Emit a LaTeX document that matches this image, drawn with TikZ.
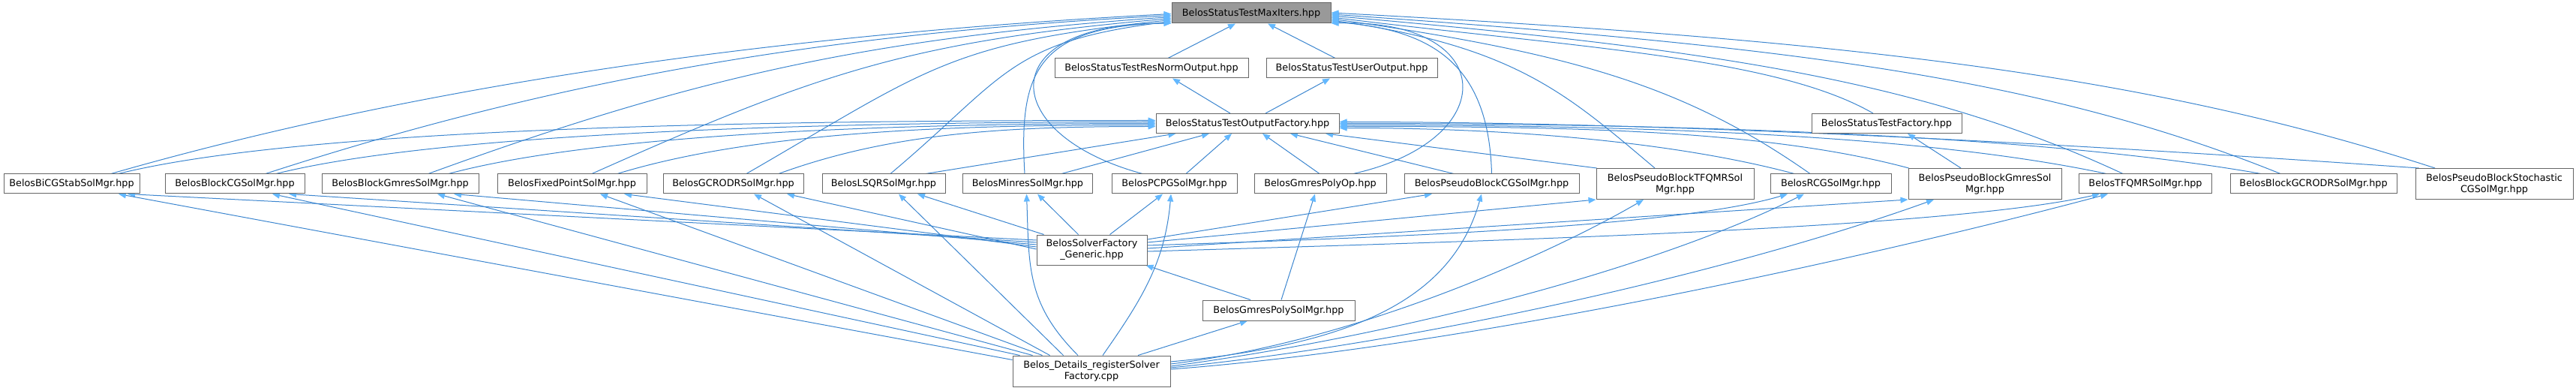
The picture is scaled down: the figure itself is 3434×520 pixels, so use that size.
\documentclass[tikz,border=0pt]{standalone}
\usepackage{fontspec}
\setmainfont{DejaVu Sans}
\usetikzlibrary{arrows.meta,backgrounds}
\definecolor{edgeblue}{HTML}{3C86CF}
\definecolor{tipblue}{HTML}{63B8FF}
\definecolor{boxborder}{HTML}{666666}
\definecolor{rootfill}{HTML}{999999}
\begin{document}
\begin{tikzpicture}[x=1pt,y=1pt,
  box/.style={draw=boxborder, line width=1pt, fill=white, inner sep=0pt,
    minimum height=26pt, font=\fontsize{12.8}{15}\selectfont, align=center, text=black},
  dbl/.style={minimum height=41pt},
  root/.style={fill=rootfill, minimum height=27pt},
  dep/.style={draw=edgeblue, line width=1pt, -{Triangle[length=10pt,width=8pt,color=tipblue]}},
]
\useasboundingbox (0,0) rectangle (3434,520);
% ---- nodes ----
\node[box,root,minimum width=212pt] (maxiters) at (1668,502.5) {BelosStatusTestMaxIters.hpp};
\node[box,minimum width=258pt] (resnorm) at (1535,429) {BelosStatusTestResNormOutput.hpp};
\node[box,minimum width=228pt] (useroutput) at (1802,429) {BelosStatusTestUserOutput.hpp};
\node[box,minimum width=244pt] (outfact) at (1663,355.5) {BelosStatusTestOutputFactory.hpp};
\node[box,minimum width=200pt] (stfactory) at (2515,355.5) {BelosStatusTestFactory.hpp};
\node[box,minimum width=181pt] (bicg) at (95.5,275) {BelosBiCGStabSolMgr.hpp};
\node[box,minimum width=186pt] (blockcg) at (313,275) {BelosBlockCGSolMgr.hpp};
\node[box,minimum width=209pt] (blockgmres) at (533.5,275) {BelosBlockGmresSolMgr.hpp};
\node[box,minimum width=199pt] (fixedpoint) at (762.5,275) {BelosFixedPointSolMgr.hpp};
\node[box,minimum width=187pt] (gcrodr) at (977.5,275) {BelosGCRODRSolMgr.hpp};
\node[box,minimum width=164pt] (lsqr) at (1178,275) {BelosLSQRSolMgr.hpp};
\node[box,minimum width=173pt] (minres) at (1370,275) {BelosMinresSolMgr.hpp};
\node[box,minimum width=167pt] (pcpg) at (1565.5,275) {BelosPCPGSolMgr.hpp};
\node[box,minimum width=176pt] (gmrespolyop) at (1760,275) {BelosGmresPolyOp.hpp};
\node[box,minimum width=233pt] (pbcg) at (1988.5,275) {BelosPseudoBlockCGSolMgr.hpp};
\node[box,dbl,minimum width=210pt] (pbtfqmr) at (2233,275) {BelosPseudoBlockTFQMRSol\\Mgr.hpp};
\node[box,minimum width=161pt] (rcg) at (2440.5,275) {BelosRCGSolMgr.hpp};
\node[box,dbl,minimum width=204pt] (pbgmres) at (2646,275) {BelosPseudoBlockGmresSol\\Mgr.hpp};
\node[box,minimum width=177pt] (tfqmr) at (2860,275) {BelosTFQMRSolMgr.hpp};
\node[box,minimum width=222pt] (blockgcrodr) at (3084,275) {BelosBlockGCRODRSolMgr.hpp};
\node[box,dbl,minimum width=210pt] (pbstoch) at (3325,275) {BelosPseudoBlockStochastic\\CGSolMgr.hpp};
\node[box,minimum height=40pt,minimum width=147pt] (sf) at (1455.5,187) {BelosSolverFactory\\\_Generic.hpp};
\node[box,minimum height=27pt,minimum width=203pt] (gpsm) at (1704.5,106.5) {BelosGmresPolySolMgr.hpp};
\node[box,dbl,minimum width=210pt] (register) at (1455,25.5) {Belos\_Details\_registerSolver\\Factory.cpp};
% ---- edges ----
\begin{scope}[on background layer]
% to MaxIters
\draw[dep] ([xshift=22pt]resnorm.north) -- ([xshift=-21pt]maxiters.south);
\draw[dep] ([xshift=-22pt]useroutput.north) -- ([xshift=22pt]maxiters.south);
\draw[dep] ([xshift=52.5pt]bicg.north) .. controls +(16:450) and +(183:500) .. ([yshift=-1pt]maxiters.west);
\draw[dep] ([xshift=41pt]blockcg.north) .. controls +(18:420) and +(183:450) .. ([yshift=-3pt]maxiters.west);
\draw[dep] ([xshift=37.5pt]blockgmres.north) .. controls +(20:380) and +(184:400) .. ([yshift=-5pt]maxiters.west);
\draw[dep] ([xshift=26.5pt]fixedpoint.north) .. controls +(24:330) and +(185:350) .. ([yshift=-7pt]maxiters.west);
\draw[dep] ([xshift=17.5pt]gcrodr.north) .. controls +(30:280) and +(186:300) .. ([yshift=-9pt]maxiters.west);
\draw[dep] ([xshift=9pt]lsqr.north) .. controls +(40:200) and +(187:220) .. ([yshift=-11pt]maxiters.west);
\draw[dep] ([xshift=-4pt]minres.north) .. controls +(-8,135) and +(-180,-5) .. ([yshift=1pt]maxiters.south west);
\draw[dep] ([xshift=-42.5pt]pcpg.north) .. controls +(-193,52) and +(-242,0) .. ([yshift=0.5pt]maxiters.south west);
\draw[dep] ([xshift=44pt]gmrespolyop.north) .. controls +(200,45) and +(225,6) .. ([yshift=0.5pt]maxiters.south east);
\draw[dep] (pbcg.north) .. controls +(-4,150) and +(130,-10) .. ([yshift=-11.5pt]maxiters.east);
\draw[dep] ([xshift=-27pt]pbtfqmr.north) .. controls +(140:150) and +(-8:250) .. ([yshift=-9.5pt]maxiters.east);
\draw[dep] ([xshift=-27.5pt]rcg.north) .. controls +(145:200) and +(-8:330) .. ([yshift=-7.5pt]maxiters.east);
\draw[dep] ([xshift=-18pt]stfactory.north) .. controls +(150:150) and +(-7:330) .. ([yshift=-5.5pt]maxiters.east);
\draw[dep] ([xshift=-30pt]tfqmr.north) .. controls +(155:300) and +(-5:500) .. ([yshift=-3.5pt]maxiters.east);
\draw[dep] ([xshift=-44pt]blockgcrodr.north) .. controls +(158:350) and +(-4:600) .. ([yshift=-1.5pt]maxiters.east);
\draw[dep] ([xshift=-79pt]pbstoch.north) .. controls +(162:400) and +(-3:700) .. ([yshift=0.5pt]maxiters.east);
% OutputFactory
\draw[dep] ([xshift=-23pt]outfact.north) -- ([xshift=28pt]resnorm.south);
\draw[dep] ([xshift=24pt]outfact.north) -- ([xshift=-29pt]useroutput.south);
\draw[dep] ([xshift=62.5pt]bicg.north) .. controls +(14:280) and +(180:400) .. ([yshift=4pt]outfact.west);
\draw[dep] ([xshift=55pt]blockcg.north) .. controls +(14:250) and +(180:350) .. ([yshift=2pt]outfact.west);
\draw[dep] ([xshift=64.5pt]blockgmres.north) .. controls +(15:220) and +(180:300) .. (outfact.west);
\draw[dep] ([xshift=60.5pt]fixedpoint.north) .. controls +(17:200) and +(180:250) .. ([yshift=-2pt]outfact.west);
\draw[dep] ([xshift=60.5pt]gcrodr.north) .. controls +(20:160) and +(180:200) .. ([yshift=-4pt]outfact.west);
\draw[dep] ([xshift=56pt]lsqr.north) -- ([xshift=27pt]outfact.south west);
\draw[dep] ([xshift=45pt]minres.north) -- ([xshift=-51pt]outfact.south);
\draw[dep] ([xshift=15.5pt]pcpg.north) -- ([xshift=-21pt]outfact.south);
\draw[dep] ([xshift=-1pt]gmrespolyop.north) -- ([xshift=20pt]outfact.south);
\draw[dep] ([xshift=-50.5pt]pbcg.north) -- ([xshift=57pt]outfact.south);
\draw[dep] ([xshift=1pt]pbtfqmr.north west) -- ([xshift=104pt]outfact.south);
\draw[dep] ([xshift=-48.5pt]rcg.north) .. controls +(165:150) and +(0:250) .. ([yshift=-6pt]outfact.east);
\draw[dep] ([xshift=1pt]pbgmres.north west) .. controls +(165:200) and +(0:300) .. ([yshift=-4pt]outfact.east);
\draw[dep] ([xshift=-52pt]tfqmr.north) .. controls +(168:250) and +(0:400) .. ([yshift=-2pt]outfact.east);
\draw[dep] ([xshift=-70pt]blockgcrodr.north) .. controls +(170:300) and +(0:450) .. (outfact.east);
\draw[dep] ([xshift=5pt]pbstoch.north west) .. controls +(176:350) and +(0:500) .. ([yshift=2pt]outfact.east);
% StatusTestFactory
\draw[dep] ([xshift=-32pt]pbgmres.north) -- ([xshift=28pt]stfactory.south);
% SolverFactory_Generic
\draw[dep] ([yshift=13pt]sf.west) -- ([xshift=74.5pt]bicg.south);
\draw[dep] ([yshift=10pt]sf.west) -- ([xshift=72pt]blockcg.south);
\draw[dep] ([yshift=7pt]sf.west) -- ([xshift=71.5pt]blockgmres.south);
\draw[dep] ([yshift=4pt]sf.west) -- ([xshift=69.5pt]fixedpoint.south);
\draw[dep] ([yshift=1pt]sf.west) -- ([xshift=71.5pt]gcrodr.south);
\draw[dep] ([xshift=10pt]sf.north west) -- ([xshift=45pt]lsqr.south);
\draw[dep] ([xshift=-18pt]sf.north) -- ([xshift=13pt]minres.south);
\draw[dep] ([xshift=24pt]sf.north) -- ([xshift=-15.5pt]pcpg.south);
\draw[dep] ([yshift=14pt]sf.east) -- ([xshift=-79.5pt]pbcg.south);
\draw[dep] ([yshift=10pt]sf.east) -- (pbtfqmr.south west);
\draw[dep] ([yshift=6pt]sf.east) .. controls +(300,10) and +(-150,-45) .. ([xshift=-57.5pt]rcg.south);
\draw[dep] ([yshift=2pt]sf.east) -- (pbgmres.south west);
\draw[dep] ([yshift=-2pt]sf.east) .. controls +(500,15) and +(-200,-45) .. ([xshift=-61pt]tfqmr.south);
% register
\draw[dep] ([yshift=-6pt]register.north west) -- ([xshift=62.5pt]bicg.south);
\draw[dep] ([xshift=10pt]register.north west) -- ([xshift=50pt]blockcg.south);
\draw[dep] ([xshift=27pt]register.north west) -- ([xshift=49.5pt]blockgmres.south);
\draw[dep] ([xshift=40pt]register.north west) -- ([xshift=37.5pt]fixedpoint.south);
\draw[dep] ([xshift=50pt]register.north west) -- ([xshift=27.5pt]gcrodr.south);
\draw[dep] ([xshift=68pt]register.north west) -- ([xshift=20pt]lsqr.south);
\draw[dep] ([xshift=-18pt]register.north) to[out=135,in=-88,looseness=1.1] ([xshift=-1.5pt]minres.south);
\draw[dep] ([xshift=15pt]register.north) to[out=55,in=-95] ([xshift=-4.5pt]pcpg.south);
\draw[dep] ([yshift=12.5pt]register.east) .. controls +(240,22) and +(-40,-142) .. ([xshift=-13.5pt]pbcg.south);
\draw[dep] ([yshift=9.5pt]register.east) .. controls +(250,30) and +(-120,-70) .. ([xshift=-42pt]pbtfqmr.south);
\draw[dep] ([yshift=6.5pt]register.east) .. controls +(300,40) and +(-200,-100) .. ([xshift=-35.5pt]rcg.south);
\draw[dep] ([yshift=4.5pt]register.east) .. controls +(350,35) and +(-250,-90) .. ([xshift=-68pt]pbgmres.south);
\draw[dep] ([yshift=2.5pt]register.east) .. controls +(400,30) and +(-300,-80) .. ([xshift=-50pt]tfqmr.south);
% GmresPolySolMgr
\draw[dep] ([xshift=3.5pt]gpsm.north) -- ([xshift=-7pt]gmrespolyop.south);
\draw[dep] ([xshift=-37.5pt]gpsm.north) -- ([xshift=-2pt]sf.south east);
\draw[dep] ([xshift=62pt]register.north) -- ([xshift=-41.5pt]gpsm.south);
\end{scope}
\end{tikzpicture}
\end{document}
